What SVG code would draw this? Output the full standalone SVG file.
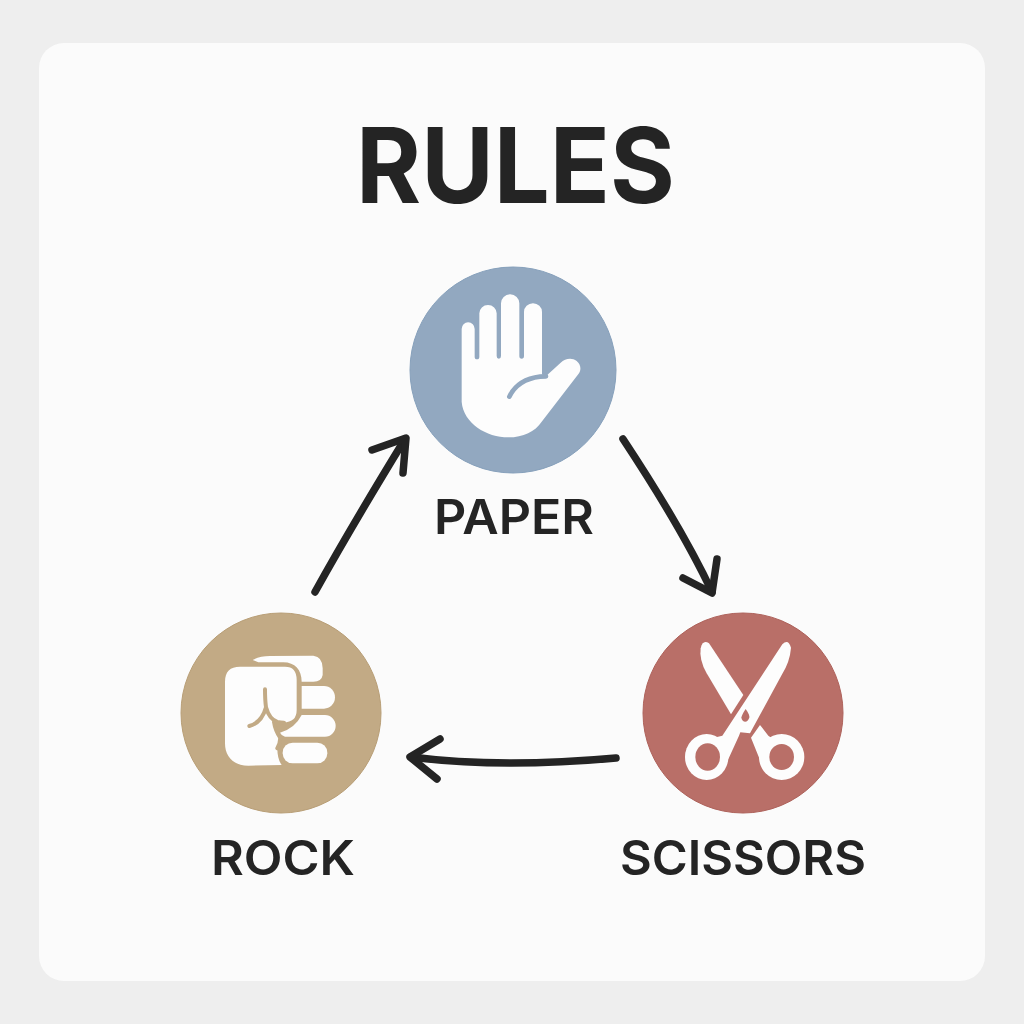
<svg xmlns="http://www.w3.org/2000/svg" width="1024" height="1024" viewBox="0 0 1024 1024">
<style>
.t{font-family:Inter,"Liberation Sans",sans-serif;fill:#242424}
.l{font-size:48px;font-weight:600}
.w{fill:#fdfdfd}
.a{fill:none;stroke:#242424;stroke-width:7.5;stroke-linecap:round;stroke-linejoin:round}
.c{fill:none;stroke-linecap:round;stroke-linejoin:round}
</style>
<rect width="1024" height="1024" fill="#eeeeee"/>
<rect x="39" y="43" width="946" height="938" rx="25" fill="#fbfbfb"/>
<text id="title" class="t" x="356" y="203" font-size="105" font-weight="700" textLength="319" lengthAdjust="spacingAndGlyphs">RULES</text>
<g id="connectors" class="a">
<path d="M315 592C345 538 375 488 405 439"/><path d="M372 450L406 438L403 473"/>
<path d="M623 439C660 495 690 545 712 592"/><path d="M683 578L712 593L717 559"/>
<path d="M616 758C550 764 480 766 411 757"/><path d="M440 739L410 757L437 779"/>
</g>
<g id="paper">
<circle cx="513" cy="370" r="103" fill="#92a8c0" stroke="#86a0bb"/>
<g transform="translate(400 260) scale(.33333)">
<path class="w" d="M185 207A19.500 20 0 0 1 224 207V290A7 8 0 0 0 238 290V160A26 25 0 0 1 290 160V288A6.500 8 0 0 0 303 288V130A27.500 27 0 0 1 358 130V288A7 8 0 0 0 372 288V156A27 26 0 0 1 426 156V343L436 350L482 308C495 296 515 292 530 303C545 315 544 335 533 345L425 485C405 515 370 532 325 532C260 532 190 490 185 425Z"/>
<path class="c" d="M328 410C345 375 380 355 420 350Q430 349 438 349" stroke="#92a8c0" stroke-width="14"/>
</g>
<text class="t l" x="434" y="534" textLength="160" lengthAdjust="spacingAndGlyphs">PAPER</text>
</g>
<g id="rock">
<circle cx="281" cy="713" r="100" fill="#c2aa85" stroke="#b89e76"/>
<g transform="translate(170 600) scale(.33333)">
<path class="w" d="M248 180Q270 168 300 168L430 167Q458 170 458 205V225Q455 245 430 245H395C395 210 375 187 340 187H265Z"/>
<path class="w" d="M395 258H462A33 34 0 0 1 462 326H395Z"/>
<path class="w" d="M330 398Q375 385 395 345H465A32 32.500 0 0 1 465 410H345Q335 408 330 398Z"/>
<rect class="w" x="338" y="428" width="134" height="62" rx="30"/>
<path class="w" d="M210 200H345Q380 200 380 240V330Q380 367 340 367L312 372Q318 400 330 415Q332 428 322 445Q322 478 335 495L235 497C190 497 165 470 165 430V245C165 215 180 200 210 200Z"/>
<path class="c" d="M285 268Q285 300 288 322Q298 358 322 366Q332 368 342 368M288 322Q275 368 238 378M312 366Q316 392 330 412Q332 428 322 445" stroke="#c2aa85" stroke-width="12"/>
</g>
<text class="t l" x="211" y="875" textLength="144" lengthAdjust="spacingAndGlyphs">ROCK</text>
</g>
<g id="scissors">
<circle cx="743" cy="713" r="100" fill="#b96f68" stroke="#ae625b"/>
<g transform="translate(635 605) scale(.33333)">
<path class="w" d="M197 130Q203 103 222 115L325 270L288 328L215 205Q192 165 197 130Z"/>
<path class="w" d="M442 118Q460 100 468 128Q465 170 440 210L345 385L316 382L312 392L272 480L230 400L262 392Z"/>
<ellipse class="w" cx="215" cy="456" rx="65" ry="69"/>
<path class="w" d="M375 360L400 392L440 420L400 510L385 490L348 398Z"/>
<ellipse class="w" cx="440" cy="456" rx="68" ry="69"/>
<ellipse cx="218" cy="456" rx="37" ry="41" fill="#b96f68"/>
<ellipse cx="440" cy="456" rx="37" ry="39" fill="#b96f68"/>
<path d="M332 312Q345 330 343 338Q338 350 331 350Q322 350 319 338Q320 330 332 312Z" fill="#b96f68"/>
</g>
<text class="t l" x="620" y="875" textLength="246" lengthAdjust="spacingAndGlyphs">SCISSORS</text>
</g>
</svg>
